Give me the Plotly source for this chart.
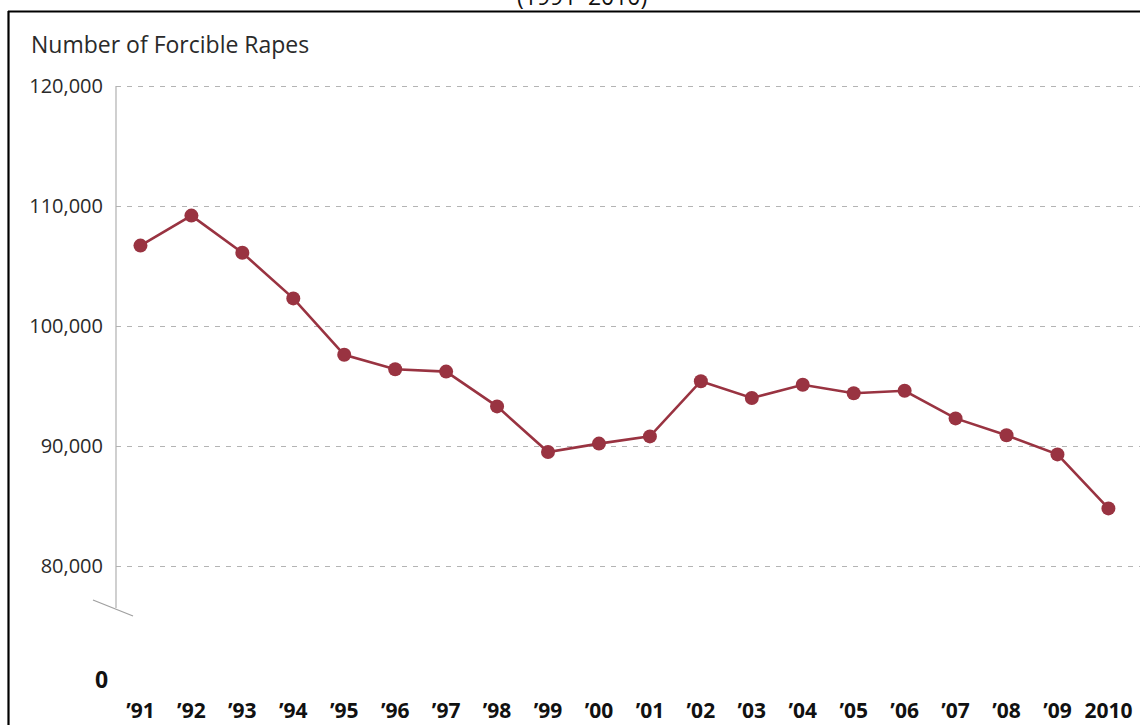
import plotly.graph_objects as go

years = ["’91", "’92", "’93", "’94", "’95", "’96", "’97", "’98", "’99", "’00",
         "’01", "’02", "’03", "’04", "’05", "’06", "’07", "’08", "’09", "2010"]
rapes = [106700, 109200, 106100, 102300, 97600, 96400, 96200, 93300, 89500, 90200,
         90800, 95400, 94000, 95100, 94400, 94600, 92300, 90900, 89300, 84800]
y_ticks = [80000, 90000, 100000, 110000, 120000]
y_tick_text = ["80,000", "90,000", "100,000", "110,000", "120,000"]

W, H = 1140, 725
L, R, T, B = 116, 0, 84, 29
pw, ph = W - L - R, H - T - B
PX_PER_10K = 120.0


def px(x):
    return (x - L) / pw


def py(y):
    return (H - B - y) / ph


line_color = "#993341"
grid_color = "#b4b4b4"
text_color = "#2a2a2a"
narrow = "Liberation Sans Narrow, Arial Narrow, Open Sans"

fig = go.Figure()
fig.add_trace(go.Scatter(
    x=list(range(len(years))), y=rapes, mode="lines+markers",
    line=dict(color=line_color, width=2.6),
    marker=dict(color=line_color, size=14),
    hoverinfo="skip", showlegend=False,
))

ymax = 120000 + (86 - T) / PX_PER_10K * 10000
ymin = ymax - ph / PX_PER_10K * 10000

fig.update_layout(
    width=W, height=H,
    margin=dict(l=L, r=R, t=T, b=B, pad=0, autoexpand=False),
    paper_bgcolor="white", plot_bgcolor="white",
    font=dict(family="Open Sans", color=text_color),
    xaxis=dict(
        range=[-0.48, len(years) - 0.38], automargin=False,
        tickmode="array", tickvals=list(range(len(years))), ticktext=years,
        showgrid=False, zeroline=False, showline=False, ticks="",
        tickfont=dict(family=narrow, size=21, color="#111111", weight="bold"),
        ticklabelstandoff=0,
    ),
    yaxis=dict(
        range=[ymin, ymax], automargin=False,
        tickmode="array", tickvals=y_ticks, ticktext=y_tick_text,
        showgrid=True, gridcolor=grid_color, gridwidth=1, griddash="5px,6px",
        zeroline=False, showline=False, ticks="",
        tickfont=dict(family="Open Sans", size=20, color=text_color),
        ticklabelstandoff=12,
    ),
)

shapes = [
    # vertical y-axis line (broken)
    dict(type="line", xref="paper", yref="paper", x0=px(116), x1=px(116),
         y0=py(86), y1=py(608), line=dict(color="#b0b0b0", width=1.2)),
    # break mark
    dict(type="line", xref="paper", yref="paper", x0=px(93), x1=px(133),
         y0=py(600), y1=py(616), line=dict(color="#a0a0a0", width=1.2)),
    # frame: top and left
    dict(type="line", xref="paper", yref="paper", x0=px(8), x1=px(W + 5),
         y0=py(11.5), y1=py(11.5), line=dict(color="black", width=2.2)),
    dict(type="line", xref="paper", yref="paper", x0=px(8.5), x1=px(8.5),
         y0=py(11), y1=py(H + 5), line=dict(color="black", width=2.2)),
]
fig.update_layout(shapes=shapes)

fig.add_annotation(text="Number of Forcible Rapes", xref="paper", yref="paper",
                   x=px(29), y=py(44), xanchor="left", yanchor="middle",
                   showarrow=False, font=dict(size=23, color=text_color, family="Open Sans"))
fig.add_annotation(text="0", xref="paper", yref="paper",
                   x=px(101), y=py(679), xanchor="center", yanchor="middle",
                   showarrow=False, font=dict(size=23, color="#111111", family=narrow, weight="bold"))
fig.add_annotation(text="(1991–2010)", xref="paper", yref="paper",
                   x=px(582), y=py(14), xanchor="center", yanchor="bottom",
                   showarrow=False, font=dict(size=23, color="#111111", family="Open Sans"))

fig.write_html("out.html", config={"displayModeBar": False},
               post_script="document.body.style.margin='0';")
